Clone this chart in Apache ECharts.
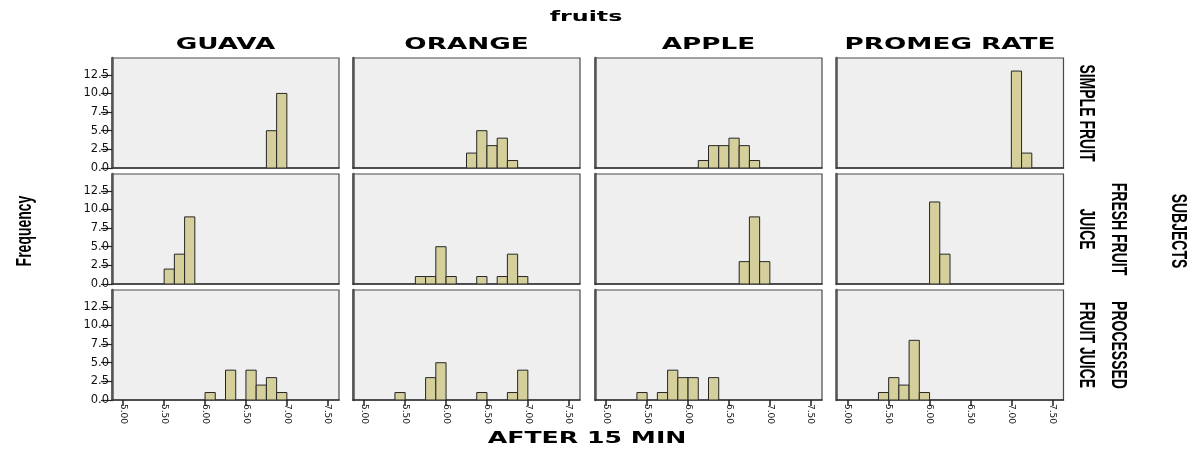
<!DOCTYPE html>
<html>
<head>
<meta charset="utf-8">
<script src="https://cdn.jsdelivr.net/npm/echarts@6/dist/echarts.min.js"></script>
<style>html,body{margin:0;padding:0;background:#fff}#chart{width:1200px;height:449px}</style>
</head>
<body>
<div id="chart"></div>
<script>
// ---- data ----
const fruits = ['GUAVA', 'ORANGE', 'APPLE', 'PROMEG RATE'];
const subjects = ['SIMPLE FRUIT', 'FRESH FRUIT\nJUICE', 'PROCESSED\nFRUIT JUICE'];
const xTickValues = [5.0, 5.5, 6.0, 6.5, 7.0, 7.5];
const yTickValues = [0, 2.5, 5, 7.5, 10, 12.5];
const binWidth = 0.125;
// [bin start, frequency]
const simpleGuava   = [[6.75, 5], [6.875, 10]];
const simpleOrange  = [[6.25, 2], [6.375, 5], [6.5, 3], [6.625, 4], [6.75, 1]];
const simpleApple   = [[6.125, 1], [6.25, 3], [6.375, 3], [6.5, 4], [6.625, 3], [6.75, 1]];
const simplePromeg  = [[7.0, 13], [7.125, 2]];
const freshGuava    = [[5.5, 2], [5.625, 4], [5.75, 9]];
const freshOrange   = [[5.625, 1], [5.75, 1], [5.875, 5], [6.0, 1], [6.375, 1], [6.625, 1], [6.75, 4], [6.875, 1]];
const freshApple    = [[6.625, 3], [6.75, 9], [6.875, 3]];
const freshPromeg   = [[6.0, 11], [6.125, 4]];
const procGuava     = [[6.0, 1], [6.25, 4], [6.5, 4], [6.625, 2], [6.75, 3], [6.875, 1]];
const procOrange    = [[5.375, 1], [5.75, 3], [5.875, 5], [6.375, 1], [6.75, 1], [6.875, 4]];
const procApple     = [[5.375, 1], [5.625, 1], [5.75, 4], [5.875, 3], [6.0, 3], [6.25, 3]];
const procPromeg    = [[5.375, 1], [5.5, 3], [5.625, 2], [5.75, 8], [5.875, 1]];
const panels = [
  [simpleGuava, simpleOrange, simpleApple, simplePromeg],
  [freshGuava, freshOrange, freshApple, freshPromeg],
  [procGuava, procOrange, procApple, procPromeg]
];

// ---- layout ----
const colLeft = [112, 353, 595, 836.5];
const rowTop = [58, 174, 290];
const panelW = 227, panelH = 110;
const barColor = '#d5d09b';

const grids = [], xAxes = [], yAxes = [], series = [];
function renderItem(params, api) {
  const x0 = api.value(0), c = api.value(1);
  const p0 = api.coord([x0, 0]);
  const p1 = api.coord([x0 + binWidth, c]);
  return {
    type: 'rect',
    shape: { x: p0[0], y: p1[1], width: p1[0] - p0[0], height: p0[1] - p1[1] },
    style: { fill: barColor, stroke: '#262626', lineWidth: 1 }
  };
}
let idx = 0;
for (let r = 0; r < 3; r++) {
  for (let c = 0; c < 4; c++) {
    grids.push({
      left: colLeft[c], top: rowTop[r], width: panelW, height: panelH,
      show: true, backgroundColor: '#efefef', borderColor: '#4a4a4a', borderWidth: 1.2
    });
    const bottom = r === 2, first = c === 0;
    xAxes.push({
      type: 'value', gridIndex: idx, min: 4.8625, max: 7.6375,
      splitLine: { show: false },
      axisLine: { show: true, onZero: false, lineStyle: { color: '#333', width: 1.5 } },
      axisTick: { show: bottom, length: 6, lineStyle: { color: '#222', width: 1.5 }, customValues: xTickValues },
      axisLabel: {
        show: bottom, rotate: -90, margin: 4, customValues: xTickValues,
        formatter: v => v.toFixed(2), fontFamily: 'DejaVu Sans', fontSize: 9, color: '#111'
      }
    });
    yAxes.push({
      type: 'value', gridIndex: idx, min: 0, max: 14.75,
      splitLine: { show: false },
      axisLine: { show: true, lineStyle: { color: '#555', width: 2.5 } },
      axisTick: { show: first, length: 11, lineStyle: { color: '#222', width: 1.2 }, customValues: yTickValues },
      axisLabel: {
        show: first, margin: 3, customValues: yTickValues,
        formatter: v => v.toFixed(1), fontFamily: 'DejaVu Sans', fontSize: 11.5, color: '#111'
      }
    });
    series.push({
      type: 'custom', xAxisIndex: idx, yAxisIndex: idx,
      renderItem: renderItem, data: panels[r][c], clip: true,
      encode: { x: 0, y: 1 }
    });
    idx++;
  }
}

// ---- annotation texts ----
const graphics = [];
function hText(text, x, y, size, sx) {
  graphics.push({ type: 'text', x: x, y: y, scaleX: sx, silent: true,
    style: { text: text, font: 'bold ' + size + 'px "DejaVu Sans"', fill: '#000', align: 'center', verticalAlign: 'middle' } });
}
function vText(text, x, y, rot, sy) {
  graphics.push({ type: 'text', x: x, y: y, rotation: rot, scaleY: sy, silent: true,
    style: { text: text, font: 'bold 14px "Liberation Sans"', fill: '#000', align: 'center', verticalAlign: 'middle', lineHeight: 21 } });
}
hText('fruits', 586, 17, 14, 1.7);
fruits.forEach((f, i) => hText(f, colLeft[i] + panelW / 2, 45, 15, 1.75));
hText('AFTER 15 MIN', 587, 439, 15, 1.68);
const rowCenterX = [1086, 1102, 1102];
subjects.forEach((s, i) => vText(s, rowCenterX[i], rowTop[i] + panelH / 2, -Math.PI / 2, 1.55));
vText('SUBJECTS', 1178, 231, -Math.PI / 2, 1.55);
vText('Frequency', 25, 231, Math.PI / 2, 1.55);

const chart = echarts.init(document.getElementById('chart'));
chart.setOption({
  animation: false,
  backgroundColor: '#fff',
  grid: grids, xAxis: xAxes, yAxis: yAxes, series: series,
  graphic: graphics
});
</script>
</body>
</html>
